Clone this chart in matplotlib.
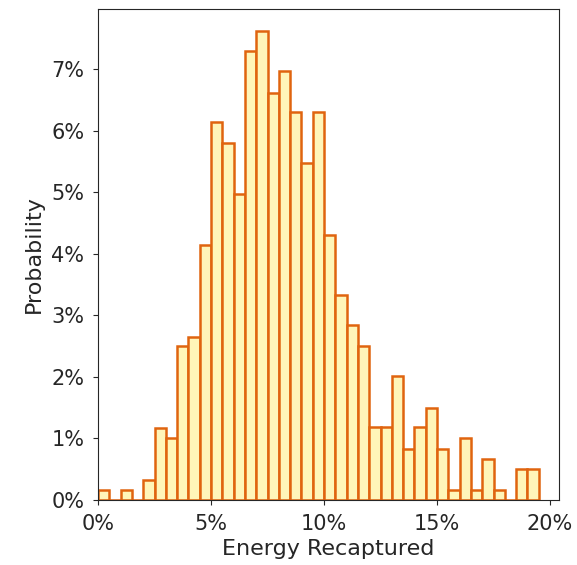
import numpy as np
import matplotlib
matplotlib.use("Agg")
import matplotlib.pyplot as plt
from matplotlib.ticker import PercentFormatter

# Histogram: bins of 0.5% from 0% to 19.5%
BIN_WIDTH = 0.005
bin_left = np.arange(0, 0.195, BIN_WIDTH)

# probability (%) per bin
prob_pct = [0.17, 0.0, 0.17, 0.0, 0.33, 1.17, 1.0, 2.5, 2.65, 4.15,
            6.15, 5.8, 4.97, 7.3, 7.62, 6.62, 6.97, 6.3, 5.47, 6.3,
            4.3, 3.33, 2.84, 2.5, 1.18, 1.18, 2.01, 0.83, 1.18, 1.5,
            0.83, 0.17, 1.0, 0.17, 0.67, 0.17, 0.0, 0.51, 0.51]

FILL = "#fff5b9"
EDGE = "#e0640f"

fig = plt.figure(figsize=(5.77, 5.65), dpi=100)
ax = fig.add_axes([0.170, 0.115, 0.799, 0.869])

ax.bar(bin_left, np.array(prob_pct) / 100, width=BIN_WIDTH, align="edge",
       color=FILL, edgecolor=EDGE, linewidth=1.8)

ax.set_xlim(0, 0.204)
ax.set_ylim(0, 0.0798)
ax.set_xticks([0, 0.05, 0.10, 0.15, 0.20])
ax.set_yticks(np.arange(0, 0.08, 0.01))
ax.xaxis.set_major_formatter(PercentFormatter(1.0, decimals=0))
ax.yaxis.set_major_formatter(PercentFormatter(1.0, decimals=0))
ax.tick_params(labelsize=15, colors="#262626", labelcolor="#262626", pad=6.5)
for sp in ax.spines.values():
    sp.set_color("#262626")

ax.set_xlabel("Energy Recaptured", fontsize=16, color="#262626", labelpad=4)
ax.set_ylabel("Probability", fontsize=16, color="#262626", labelpad=5)

fig.savefig("out.png", dpi=100)
